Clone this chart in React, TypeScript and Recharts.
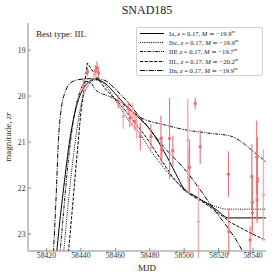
import { ComposedChart, Line, Scatter, ErrorBar, XAxis, YAxis } from "recharts";

// model light curves (MJD, zr magnitude)
const iaMjd = [58425.5, 58427, 58430, 58433.7, 58437.6, 58441.5, 58445, 58448.2, 58451, 58454, 58460, 58466, 58473, 58480, 58490, 58495, 58499.6, 58506, 58513, 58519, 58525.7, 58548];
const iaMag = [23.6, 23.0, 22.0, 20.92, 20.2, 19.83, 19.68, 19.63, 19.66, 19.72, 19.95, 20.2, 20.45, 20.72, 21.32, 21.68, 22.0, 22.17, 22.33, 22.48, 22.65, 22.65];

const ibcMjd = [58429.5, 58431, 58433, 58436, 58439.5, 58443, 58448, 58452, 58456, 58462, 58468, 58474.5, 58480.3, 58486, 58495, 58502, 58510, 58518, 58525, 58548];
const ibcMag = [23.6, 23.0, 22.2, 21.2, 20.3, 19.85, 19.65, 19.68, 19.85, 20.2, 20.55, 20.83, 21.17, 21.46, 21.85, 22.08, 22.26, 22.4, 22.46, 22.46];

const iipMjd = [58427.5, 58430, 58433, 58436, 58440, 58443.4, 58446, 58448.2, 58451, 58454, 58460.8, 58468.7, 58475, 58488, 58501.6, 58515, 58527, 58533, 58540, 58548];
const iipMag = [23.6, 22.5, 21.3, 20.45, 19.85, 19.68, 19.72, 19.85, 19.93, 19.97, 20.08, 20.3, 20.47, 20.62, 20.74, 20.81, 20.87, 20.99, 21.2, 21.45];

const iilMjd = [58432, 58434, 58437, 58440, 58443.8, 58448, 58454, 58462, 58470, 58478, 58486, 58493, 58500, 58506, 58512, 58520, 58527, 58537, 58548];
const iilMag = [23.7, 22.9, 21.6, 20.35, 19.28, 19.52, 19.83, 20.15, 20.5, 20.9, 21.35, 21.75, 22.05, 22.2, 22.33, 22.55, 22.75, 22.95, 23.15];

const iinMjd = [58423.8, 58425.5, 58427, 58428.9, 58430.5, 58432.8, 58436, 58441, 58448, 58454, 58460, 58466, 58473, 58480, 58488, 58495, 58501.6, 58509.3, 58519, 58526, 58532.5, 58536];
const iinMag = [23.6, 22.3, 20.95, 20.2, 19.95, 19.76, 19.67, 19.63, 19.62, 19.66, 19.85, 20.08, 20.4, 20.72, 21.1, 21.38, 21.65, 22.04, 22.55, 22.9, 23.28, 23.55];

// observations
const darkMjd = [58441.4, 58443.9, 58448.6, 58449.4, 58450.3, 58461.7, 58467.5, 58468.5, 58471.4, 58474.5, 58480.7, 58486.5, 58487.0, 58491.5, 58493.4, 58503.1, 58506.4, 58509.3, 58525.7, 58525.9, 58539.3, 58539.6, 58539.6, 58538.3, 58542.1, 58542.5, 58542.5, 58542.3];
const darkMag = [19.8, 19.47, 19.45, 19.38, 19.5, 20.12, 20.27, 20.48, 20.56, 20.88, 20.88, 20.92, 21.17, 20.92, 21.19, 21.55, 20.16, 21.1, 21.7, 22.95, 21.75, 22.31, 22.54, 23.13, 21.33, 21.8, 21.86, 22.26];
const darkErr = [0.18, 0.1, 0.12, 0.14, 0.12, 0.15, 0.15, 0.2, 0.2, 0.3, 0.27, 0.5, 0.3, 0.88, 0.33, 0.6, 0.13, 0.37, 0.5, 0.5, 0.7, 0.6, 0.5, 0.3, 0.8, 0.9, 0.5, 0.5];

const lightMjd = [58448.0, 58464.6, 58470.0, 58472.4, 58502.1, 58502.3, 58508.3, 58546.0];
const lightMag = [19.55, 20.45, 20.4, 20.67, 20.96, 21.64, 22.73, 22.15];
const lightErr = [0.1, 0.26, 0.25, 0.25, 0.9, 0.5, 0.8, 1.0];

const xTicks = [58420, 58440, 58460, 58480, 58500, 58520, 58540];
const yTicks = [19, 20, 21, 22, 23];

const legendTypes = ["Ia", "Ibc", "IIP", "IIL", "IIn"];
const legendM = ["\u221219.9", "\u221219.9", "\u221219.7", "\u221220.2", "\u221219.9"];
const redshift = "0.17";

const curve = (mjd: number[], mag: number[]) => mjd.map((m, i) => ({ mjd: m, mag: mag[i] }));
const points = (mjd: number[], mag: number[], err: number[]) =>
  mjd.map((m, i) => ({ mjd: m, mag: mag[i], err: err[i] }));

const series = [
  { name: "Ia", data: curve(iaMjd, iaMag), dash: undefined, type: "monotone" },
  { name: "Ibc", data: curve(ibcMjd, ibcMag), dash: "1 1.2", type: "monotone" },
  { name: "IIP", data: curve(iipMjd, iipMag), dash: "3 1 0.8 1 0.8 1", type: "monotone" },
  { name: "IIL", data: curve(iilMjd, iilMag), dash: "3.2 1.5", type: "linear" },
  { name: "IIn", data: curve(iinMjd, iinMag), dash: "5 1.3 1 1.3", type: "monotone" },
];

const FONT = "'Liberation Serif', 'DejaVu Serif', serif";
const DARK = "#ef6f78";
const LIGHT = "#f6abb1";
const FRAME = "#8a8a8a";

const dot = (color: string) => (p: any) => <circle cx={p.cx} cy={p.cy} r={1.7} fill={color} />;

export default function App() {
  return (
    <div style={{ position: "absolute", left: 0, top: 0, width: 280, height: 280, background: "#fff", fontFamily: FONT }}>
      <ComposedChart width={280} height={280} margin={{ top: 23, right: 14, bottom: 0, left: 0 }}>
        <XAxis
          dataKey="mjd"
          type="number"
          domain={[58409.3, 58547.5]}
          ticks={xTicks}
          allowDataOverflow
          height={29}
          stroke={FRAME}
          tickSize={-3}
          tickMargin={5}
          tick={{ fontSize: 7.7, fill: "#333", fontFamily: FONT }}
        />
        <XAxis xAxisId="top" orientation="top" type="number" dataKey="mjd" domain={[58409.3, 58547.5]} allowDataOverflow height={0} tick={false} tickLine={false} stroke={FRAME} />
        <YAxis
          dataKey="mag"
          type="number"
          reversed
          domain={[18.41, 23.37]}
          ticks={yTicks}
          allowDataOverflow
          width={28}
          stroke={FRAME}
          tickSize={-3}
          tickMargin={5.5}
          tick={{ fontSize: 7.7, fill: "#333", fontFamily: FONT }}
        />
        <YAxis yAxisId="right" orientation="right" type="number" domain={[18.41, 23.37]} allowDataOverflow width={0} tick={false} tickLine={false} stroke="#b0b0b0" strokeWidth={2} />
        {series.map((s) => (
          <Line
            key={s.name}
            data={s.data}
            dataKey="mag"
            type={s.type as any}
            stroke="#000"
            strokeWidth={1}
            strokeDasharray={s.dash}
            dot={false}
            activeDot={false}
            isAnimationActive={false}
          />
        ))}
        <Scatter data={points(lightMjd, lightMag, lightErr)} dataKey="mag" shape={dot(LIGHT)} isAnimationActive={false}>
          <ErrorBar dataKey="err" direction="y" width={0} stroke={LIGHT} strokeWidth={1.4} />
        </Scatter>
        <Scatter data={points(darkMjd, darkMag, darkErr)} dataKey="mag" shape={dot(DARK)} isAnimationActive={false}>
          <ErrorBar dataKey="err" direction="y" width={0} stroke={DARK} strokeWidth={1.1} />
        </Scatter>
      </ComposedChart>

      <div style={{ position: "absolute", left: 0, width: 294, top: 3, textAlign: "center", fontSize: 12, color: "#222" }}>SNAD185</div>
      <div style={{ position: "absolute", left: 36, top: 29, fontSize: 9, color: "#222" }}>Best type: IIL</div>
      <div style={{ position: "absolute", left: 0, width: 294, top: 263, textAlign: "center", fontSize: 9, color: "#222" }}>MJD</div>
      <div
        style={{
          position: "absolute",
          left: 8,
          top: 137,
          transform: "translate(-50%, -50%) rotate(-90deg)",
          fontSize: 9,
          whiteSpace: "nowrap",
          color: "#222",
        }}
      >
        magnitude, <i>zr</i>
      </div>

      <div
        style={{
          position: "absolute",
          left: 136,
          top: 27,
          width: 127,
          height: 49,
          border: "1px solid #d0d0d0",
          borderRadius: 2,
          background: "rgba(255,255,255,0.85)",
          boxSizing: "border-box",
        }}
      >
        {series.map((s, i) => (
          <div key={s.name} style={{ position: "absolute", left: 1, top: 0.8 + i * 9.3, height: 9, display: "flex", alignItems: "center", whiteSpace: "nowrap", fontSize: 6.6, color: "#222" }}>
            <svg width={27} height={9} style={{ marginRight: 4 }}>
              <line x1={2} x2={26} y1={4.5} y2={4.5} stroke="#000" strokeWidth={1} strokeDasharray={s.dash} />
            </svg>
            <span>
              {legendTypes[i]}, <i>z</i> = {redshift}, <i>M</i> {"\u2243"} {legendM[i]}
              <sup style={{ fontSize: 4.5 }}>m</sup>
            </span>
          </div>
        ))}
      </div>
    </div>
  );
}
